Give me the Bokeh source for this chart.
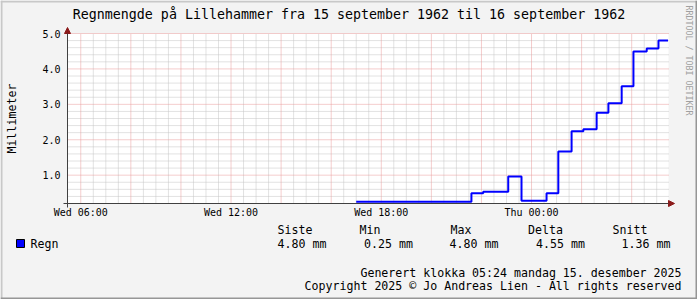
import math
from bokeh.plotting import figure
from bokeh.models import Range1d, Label, Arrow, NormalHead, BoxAnnotation
from bokeh.embed import file_html
from bokeh.resources import INLINE

# ---- data (hours since Wed 15 Sep 1962 00:00) ----
times = [17.0, 21.6, 22.07, 23.07, 23.6, 24.6, 25.07, 25.6, 26.07, 26.6,
         27.07, 27.6, 28.07, 28.6, 29.07, 29.45]
values = [0.25, 0.49, 0.53, 0.96, 0.28, 0.49, 1.67, 2.24, 2.30, 2.76,
          3.03, 3.51, 4.49, 4.58, 4.80, 4.80]

x_tick_pos = [6, 12, 18, 24]
x_tick_labels = ["Wed 06:00", "Wed 12:00", "Wed 18:00", "Thu 00:00"]
y_ticks = [1, 2, 3, 4, 5]
y_tick_labels = ["1.0", "2.0", "3.0", "4.0", "5.0"]
x_major_grid = [6, 8, 10, 12, 14, 16, 18, 20, 22, 24, 26, 28]
x_minor_grid = [6.5, 7, 7.5, 8.5, 9, 9.5, 10.5, 11, 11.5, 12.5, 13, 13.5,
                14.5, 15, 15.5, 16.5, 17, 17.5, 18.5, 19, 19.5, 20.5, 21, 21.5,
                22.5, 23, 23.5, 24.5, 25, 25.5, 26.5, 27, 27.5, 28.5, 29]
y_minor_grid = [0.4, 0.6, 0.8, 1.2, 1.4, 1.6, 1.8, 2.2, 2.4, 2.6, 2.8,
                3.2, 3.4, 3.6, 3.8, 4.2, 4.4, 4.6, 4.8]

title = "Regnmengde på Lillehammer fra 15 september 1962 til 16 september 1962"
y_label = "Millimeter"
series_name = "Regn"
stat_names = ["Siste", "Min", "Max", "Delta", "Snitt"]
stat_values = ["4.80 mm", "0.25 mm", "4.80 mm", "4.55 mm", "1.36 mm"]
footer1 = "Generert klokka 05:24 mandag 15. desember 2025"
footer2 = "Copyright 2025 © Jo Andreas Lien - All rights reserved"
watermark = "RRDTOOL / TOBI OETIKER"

# ---- layout (pixels) ----
MONO = "DejaVu Sans Mono"
W, H = 697, 299
PL, PR, PT, PB = 67, 668, 33, 203          # plot area in canvas pixels
X0, X1 = 5.47, 29.47                       # visible time window (hours)
Y0, Y1 = 0.2, 5.0                          # value axis limits
ppx = (PR - PL) / (X1 - X0)
ppy = (PB - PT) / (Y1 - Y0)

p = figure(width=W, height=H, output_backend="svg", toolbar_location=None,
           x_axis_location=None, y_axis_location=None,
           x_range=Range1d(X0 - PL / ppx, X1 + (W - PR) / ppx),
           y_range=Range1d(Y0 - (H - PB) / ppy, Y1 + PT / ppy),
           min_border=0)
p.grid.visible = False
p.outline_line_color = None
p.background_fill_color = "#f3f3f3"
p.border_fill_color = "#f3f3f3"

def sy(Y):  # canvas pixel row -> screen units (from bottom)
    return H - Y

# canvas shading edges
for l, r, b, t, c in [(0, W, sy(2), sy(0), "#c8c8c8"), (0, 2, 0, H, "#c8c8c8"),
                      (0, W, 0, 2, "#969696"), (W - 2, W, 0, H, "#969696")]:
    p.add_layout(BoxAnnotation(left=l, right=r, bottom=b, top=t,
                               left_units="screen", right_units="screen",
                               bottom_units="screen", top_units="screen",
                               fill_color=c, fill_alpha=1, line_color=None,
                               level="underlay"))

# white canvas of the graph area
p.add_layout(BoxAnnotation(left=X0, right=X1, bottom=Y0, top=Y1,
                           fill_color="white", fill_alpha=1, line_color=None,
                           level="underlay"))

# grid
p.segment(x0=x_minor_grid, y0=Y0, x1=x_minor_grid, y1=Y1,
          line_color="#c4c4c4", line_dash="1 1", line_width=1)
p.segment(x0=X0, y0=y_minor_grid, x1=X1, y1=y_minor_grid,
          line_color="#c4c4c4", line_dash="1 1", line_width=1)
p.segment(x0=x_major_grid, y0=Y0, x1=x_major_grid, y1=Y1,
          line_color="#e99a9a", line_dash="1 1", line_width=1)
p.segment(x0=X0, y0=y_ticks, x1=X1, y1=y_ticks,
          line_color="#e99a9a", line_dash="1 1", line_width=1)

# data
p.step(times, values, mode="after", line_width=2, line_color="#0000ff")

# axis lines with arrow heads
ARROW = "#8b1a1a"
p.add_layout(Arrow(x_start=PL - 4, y_start=sy(PB), x_end=PR + 6, y_end=sy(PB),
                   start_units="screen", end_units="screen",
                   line_color="#404040", line_width=1,
                   end=NormalHead(size=6, fill_color=ARROW, line_color=ARROW)))
p.add_layout(Arrow(x_start=PL, y_start=sy(PB + 4), x_end=PL, y_end=sy(PT - 6),
                   start_units="screen", end_units="screen",
                   line_color="#404040", line_width=1,
                   end=NormalHead(size=6, fill_color=ARROW, line_color=ARROW)))

def lab(x, y, text, size="11.6px", align="left", baseline="middle",
        color="black", angle=0.0, xu="screen", yu="screen"):
    p.add_layout(Label(x=x, y=y, x_units=xu, y_units=yu, text=text,
                       text_font=MONO, text_font_size=size, text_align=align,
                       text_baseline=baseline, text_color=color, angle=angle))

# tick labels (placed through the data scales)
for xv, t in zip(x_tick_pos, x_tick_labels):
    lab(xv, sy(212), t, size="10px", align="center", xu="data")
for yv, t in zip(y_ticks, y_tick_labels):
    lab(PL - 7, yv, t, size="10px", align="right", yu="data")

lab(11, sy((PT + PB) / 2), y_label, align="center", angle=math.pi / 2)
lab(348.5, sy(14), title, size="13.3px", align="center")
lab(688, sy(5), watermark, size="8.3px", color="#a0a0a0", angle=-math.pi / 2)

# legend / statistics
stat_x = [277, 359, 450, 527.5, 612]
val_x = [277, 363.5, 449, 535.5, 621]
for x, name in zip(stat_x, stat_names):
    lab(x, sy(229), name)
for x, v in zip(val_x, stat_values):
    lab(x, sy(243), v)
lab(30, sy(243), series_name)
p.add_layout(BoxAnnotation(left=16, right=24, bottom=sy(247), top=sy(239),
                           left_units="screen", right_units="screen",
                           bottom_units="screen", top_units="screen",
                           fill_color="#0000ff", fill_alpha=1,
                           line_color="black", line_width=1, line_alpha=1))
lab(681, sy(272), footer1, align="right")
lab(681, sy(285), footer2, align="right")

open("out.html", "w").write(file_html(p, INLINE))
